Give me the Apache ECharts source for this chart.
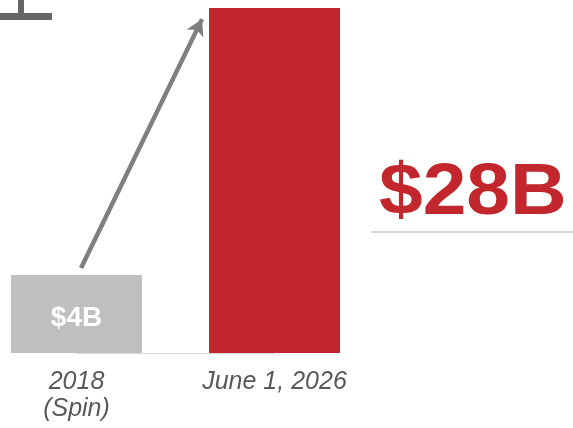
<!DOCTYPE html>
<html>
<head>
<meta charset="utf-8">
<script src="https://cdn.jsdelivr.net/npm/echarts@6/dist/echarts.min.js"></script>
<style>html,body{margin:0;padding:0;background:#fff}#c{width:573px;height:428px}</style>
</head>
<body>
<div id="c"></div>
<script>
var categories = ['2018\n(Spin)', 'June 1, 2026'];
var values = [4, 28];
var barColors = ['#bfbfbf', '#c1272d'];
var bigLabel = '$28B';
// arrow endpoints in data space: [fraction between categories, value]
var arrowStart = [0.023, 4.64];
var arrowEnd = [0.634, 27.0];

var chart = echarts.init(document.getElementById('c'), null, {renderer: 'canvas'});
var FONT = '"Liberation Sans", Arial, sans-serif';
chart.setOption({
  animation: false,
  grid: {left: 76.5, width: 198, top: 8, bottom: 75},
  xAxis: [{
    type: 'category', data: categories, boundaryGap: false,
    axisLine: {show: true, onZero: false, lineStyle: {color: '#d9d9d9', width: 1}},
    axisTick: {show: false},
    axisLabel: {color: '#595959', fontSize: 25, fontStyle: 'italic', fontFamily: FONT, lineHeight: 27, margin: 16}
  }, {
    type: 'value', min: 0, max: 1, show: false
  }],
  yAxis: {
    type: 'value', min: -3, max: 28, startValue: -3, show: false,
    splitLine: {show: false}
  },
  series: [{
    type: 'bar', barWidth: 131,
    data: values.map(function (v, i) {
      return {value: v, itemStyle: {color: barColors[i]},
        label: {show: i === 0}};
    }),
    label: {position: 'inside', formatter: function (p) { return '$' + p.value + 'B'; },
      color: '#fff', fontSize: 28, fontWeight: 'bold', fontFamily: FONT, offset: [0, 4]}
  }, {
    type: 'line', xAxisIndex: 1, data: [], silent: true,
    markLine: {
      silent: true, symbol: ['none', 'arrow'], symbolSize: [14, 16],
      lineStyle: {color: '#7f7f7f', width: 4.5, type: 'solid'},
      label: {show: false},
      data: [[{coord: arrowStart}, {coord: arrowEnd}]]
    }
  }],
  graphic: [
    {type: 'rect', shape: {x: 0, y: 13, width: 52, height: 7}, style: {fill: '#666'}},
    {type: 'rect', shape: {x: 18, y: 0, width: 6, height: 14}, style: {fill: '#666'}},
    {type: 'text', x: 379, y: 158, scaleX: 1.09, style: {text: bigLabel, fill: '#c1272d', font: 'bold 72px ' + FONT}},
    {type: 'rect', shape: {x: 371, y: 231, width: 202, height: 2}, style: {fill: '#d9d9d9'}}
  ]
});
</script>
</body>
</html>
